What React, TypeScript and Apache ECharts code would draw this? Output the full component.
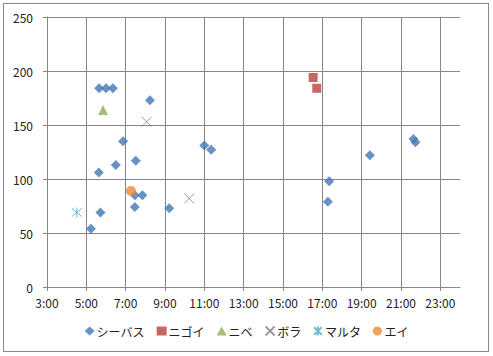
import React, { useEffect, useRef } from "react";
import * as echarts from "echarts";

const xTicks = [3, 5, 7, 9, 11, 13, 15, 17, 19, 21, 23];
const yTicks = [0, 50, 100, 150, 200, 250];

// [time, length]
const seabass: [string, number][] = [
  ["5:39", 184], ["6:00", 184], ["6:21", 184], ["8:14", 173],
  ["6:52", 135], ["7:31", 117], ["6:30", 113], ["5:38", 106],
  ["5:43", 69], ["5:14", 54], ["7:28", 85], ["7:51", 85],
  ["7:28", 74], ["9:13", 73], ["11:00", 131], ["11:21", 127],
  ["17:21", 98], ["17:17", 79], ["19:25", 122], ["21:38", 137],
  ["21:44", 134],
];
const nigoi: [string, number][] = [["16:32", 194], ["16:43", 184]];
const nibe: [string, number][] = [["5:51", 164]];
const bora: [string, number][] = [["8:04", 153], ["10:14", 82]];
const maruta: [string, number][] = [["4:31", 69]];
const ei: [string, number][] = [["7:16", 89]];

const toHours = (t: string) => {
  const [h, m] = t.split(":").map(Number);
  return h + m / 60;
};
const pts = (arr: [string, number][]) => arr.map(([t, v]) => [toHours(t), v]);

const X_PATH = "path://M0,0L10,10M10,0L0,10";
const AST_PATH = "path://M0,0L10,10M10,0L0,10M5,-1L5,11";

export default function App() {
  const ref = useRef<HTMLDivElement>(null);
  useEffect(() => {
    if (!ref.current) return;
    const chart = echarts.init(ref.current, undefined, { renderer: "svg" });
    const font = "'Noto Sans CJK JP', 'Noto Sans', sans-serif";
    const lastTick = xTicks[xTicks.length - 1];
    chart.setOption({
      animation: false,
      backgroundColor: "#ffffff",
      textStyle: { fontFamily: font },
      grid: { left: 47, right: 33, top: 17, bottom: 69, containLabel: false },
      xAxis: {
        type: "value",
        min: xTicks[0],
        max: 24,
        interval: 2,
        axisLine: { show: true, onZero: false, lineStyle: { color: "#878787", width: 1 } },
        axisTick: { show: true, length: 4, inside: false, customValues: xTicks, lineStyle: { color: "#878787" } },
        axisLabel: {
          margin: 9,
          color: "#222",
          fontSize: 12,
          fontFamily: font,
          formatter: (v: number) => (v > lastTick ? "" : `${v}:00`),
        },
        splitLine: { show: true, lineStyle: { color: "#878787", width: 1 } },
      },
      yAxis: {
        type: "value",
        min: yTicks[0],
        max: yTicks[yTicks.length - 1],
        interval: 50,
        axisLine: { show: true, lineStyle: { color: "#878787", width: 1 } },
        axisTick: { show: true, length: 4, lineStyle: { color: "#878787" } },
        axisLabel: { margin: 14, color: "#222", fontSize: 12, fontFamily: font },
        splitLine: { show: true, lineStyle: { color: "#878787", width: 1 } },
      },
      legend: {
        bottom: 14,
        left: "center",
        itemWidth: 10,
        itemHeight: 9,
        itemGap: 12,
        textStyle: { fontSize: 12, color: "#222", fontFamily: font, padding: [0, 0, 0, -3] },
        data: ["シーバス", "ニゴイ", "ニベ", "ボラ", "マルタ", "エイ"],
      },
      series: [
        {
          name: "シーバス", type: "scatter", symbol: "diamond", symbolSize: 10,
          itemStyle: { color: "#4477B5" }, data: pts(seabass),
        },
        {
          name: "ニゴイ", type: "scatter", symbol: "rect", symbolSize: 9,
          itemStyle: { color: "#B8413E" }, data: pts(nigoi),
        },
        {
          name: "ニベ", type: "scatter", symbol: "triangle", symbolSize: 10,
          itemStyle: { color: "#8FB04C" }, data: pts(nibe),
        },
        {
          name: "ボラ", type: "scatter", symbol: X_PATH, symbolSize: 10,
          itemStyle: { color: "transparent", borderColor: "#7F7F95", borderWidth: 1 }, data: pts(bora),
        },
        {
          name: "マルタ", type: "scatter", symbol: AST_PATH, symbolSize: 10,
          itemStyle: { color: "transparent", borderColor: "#4BACC6", borderWidth: 1 }, data: pts(maruta),
        },
        {
          name: "エイ", type: "scatter", symbol: "circle", symbolSize: 10,
          itemStyle: { color: "#F0883A" }, data: pts(ei),
        },
      ],
    });
    return () => chart.dispose();
  }, []);
  return (
    <div style={{ position: "fixed", left: 0, top: 0, width: 493, height: 356, background: "#fff" }}>
      <div ref={ref} style={{ position: "absolute", left: 0, top: 0, width: 493, height: 356 }} />
      <div
        style={{
          position: "absolute", left: 3, top: 3, width: 486, height: 349,
          border: "1px solid #8a8a8a", pointerEvents: "none", boxSizing: "border-box",
        }}
      />
    </div>
  );
}
